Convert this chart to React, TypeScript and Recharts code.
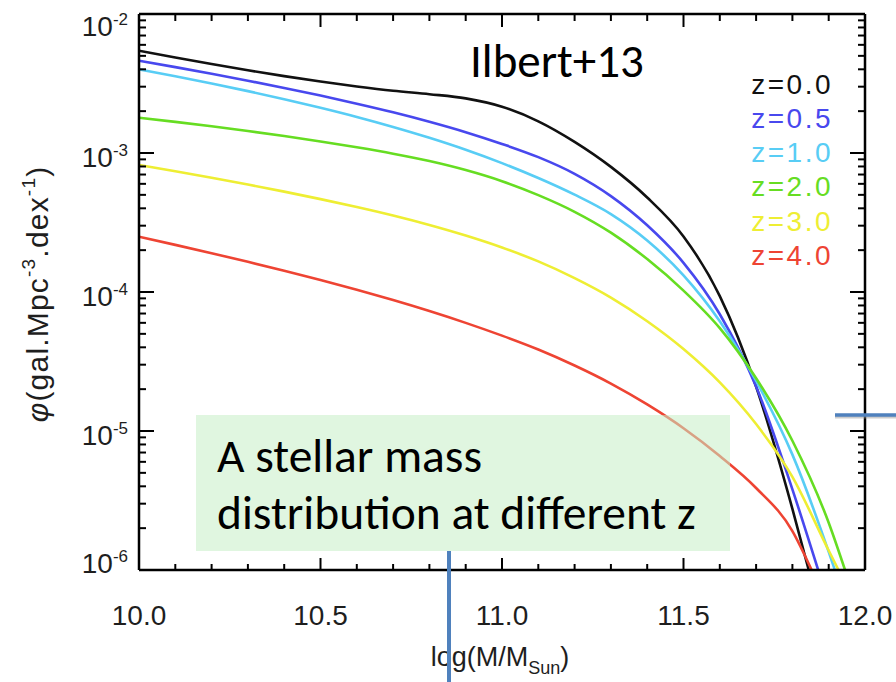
import { Line, LineChart, XAxis, YAxis } from "recharts";

// Stellar mass functions (Ilbert+13).
// mass = log(M/Msun); values are log10(phi), phi in gal.Mpc^-3.dex^-1

const massGrid = [10.0, 10.1, 10.2, 10.3, 10.4, 10.5, 10.6, 10.7, 10.8, 10.9, 11.0, 11.1, 11.2, 11.3, 11.4, 11.5, 11.6, 11.7, 11.8];

const massZ00 = [...massGrid, 11.845];
const logPhiZ00 = [-2.264, -2.313, -2.36, -2.405, -2.447, -2.486, -2.521, -2.552, -2.577, -2.607, -2.667, -2.772, -2.92, -3.1, -3.32, -3.6, -4.03, -4.68, -5.56, -6.0];

const massZ05 = [...massGrid, 11.871];
const logPhiZ05 = [-2.336, -2.382, -2.43, -2.48, -2.532, -2.587, -2.645, -2.707, -2.775, -2.85, -2.935, -3.03, -3.15, -3.31, -3.52, -3.79, -4.16, -4.68, -5.42, -6.0];

const massZ10 = [...massGrid, 11.9, 11.917];
const logPhiZ10 = [-2.398, -2.448, -2.5, -2.555, -2.613, -2.675, -2.741, -2.813, -2.891, -2.977, -3.073, -3.18, -3.3, -3.44, -3.63, -3.88, -4.21, -4.64, -5.17, -5.87, -6.0];

const massZ20 = [...massGrid, 11.9, 11.945];
const logPhiZ20 = [-2.746, -2.776, -2.808, -2.842, -2.878, -2.917, -2.959, -3.005, -3.058, -3.123, -3.203, -3.303, -3.423, -3.573, -3.763, -3.99, -4.26, -4.62, -5.07, -5.66, -6.0];

const massZ30 = [...massGrid, 11.9, 11.927];
const logPhiZ30 = [-3.086, -3.131, -3.178, -3.227, -3.278, -3.332, -3.389, -3.45, -3.518, -3.594, -3.68, -3.78, -3.9, -4.04, -4.21, -4.41, -4.65, -4.95, -5.33, -5.86, -6.0];

const massZ40 = [...massGrid, 11.853];
const logPhiZ40 = [-3.602, -3.661, -3.721, -3.783, -3.847, -3.914, -3.984, -4.058, -4.137, -4.222, -4.314, -4.414, -4.529, -4.659, -4.809, -4.98, -5.18, -5.41, -5.72, -6.0];

const seriesNames = ["z=0.0", "z=0.5", "z=1.0", "z=2.0", "z=3.0", "z=4.0"];
const seriesColors = ["#111111", "#4848ee", "#58cdf5", "#66dd22", "#eeee33", "#ee4433"];
const seriesMass = [massZ00, massZ05, massZ10, massZ20, massZ30, massZ40];
const seriesLogPhi = [logPhiZ00, logPhiZ05, logPhiZ10, logPhiZ20, logPhiZ30, logPhiZ40];

const xTicks = [10.0, 10.1, 10.2, 10.3, 10.4, 10.5, 10.6, 10.7, 10.8, 10.9, 11.0, 11.1, 11.2, 11.3, 11.4, 11.5, 11.6, 11.7, 11.8, 11.9, 12.0];
const yDecades = [1e-6, 1e-5, 1e-4, 1e-3];
const yMultipliers = [1, 2, 3, 4, 5, 6, 7, 8, 9];
const yTicks = [...yDecades.flatMap((d) => yMultipliers.map((k) => k * d)), 1e-2];

const W = 896;
const H = 682;
const LABEL_FONT = "'Liberation Sans', Arial, Helvetica, sans-serif";
const SLIDE_FONT = "Carlito, Lato, sans-serif";
const INK = "#1e1e1e";
const SLIDE_BLUE = "#4f81bd";

const isXMajor = (v: number) => Math.abs(v * 2 - Math.round(v * 2)) < 1e-6;
const decadeOf = (v: number) => Math.round(Math.log10(v));
const isYMajor = (v: number) => Math.abs(Math.log10(v) - decadeOf(v)) < 1e-6;

function BottomTick({ x, y, payload }: any) {
  const major = isXMajor(payload.value);
  return (
    <g>
      <line x1={x} y1={y} x2={x} y2={y - (major ? 12 : 6)} stroke="#000" strokeWidth={2} />
      {major && (
        <text x={x} y={y + 55} textAnchor="middle" fontFamily={LABEL_FONT} fontSize={28} fill={INK}>
          {payload.value.toFixed(1)}
        </text>
      )}
    </g>
  );
}

function TopTick({ x, y, payload }: any) {
  const major = isXMajor(payload.value);
  return <line x1={x} y1={y} x2={x} y2={y + (major ? 13 : 7)} stroke="#000" strokeWidth={2} />;
}

function LeftTick({ x, y, payload }: any) {
  const v = payload.value;
  const major = isYMajor(v);
  const exp = decadeOf(v);
  // end labels are pulled inside the axis range, like the original plot
  const dy = exp === -2 ? 22 : exp === -6 ? 3 : 14;
  return (
    <g>
      <line x1={x} y1={y} x2={x + (major ? 15 : 7)} y2={y} stroke="#000" strokeWidth={2} />
      {major && (
        <text x={x - 11} y={y + dy} textAnchor="end" fontFamily={LABEL_FONT} fontSize={28} fill={INK}>
          10
          <tspan dy={-11} fontSize={17}>
            {String(exp)}
          </tspan>
        </text>
      )}
    </g>
  );
}

function RightTick({ x, y, payload }: any) {
  const major = isYMajor(payload.value);
  return <line x1={x} y1={y} x2={x - (major ? 15 : 7)} y2={y} stroke="#000" strokeWidth={2} />;
}

const axisStroke = { stroke: "#000", strokeWidth: 2.5 };

export default function App() {
  const legendBase = 93.5;
  const legendStep = 34.3;
  return (
    <div style={{ position: "absolute", left: 0, top: 0, width: W, height: H, background: "#fff" }}>
      <LineChart width={W} height={H} margin={{ top: 13, right: 30, bottom: 111, left: 138 }}>
        <XAxis
          xAxisId="b"
          type="number"
          dataKey="mass"
          domain={[10, 12]}
          allowDataOverflow
          ticks={xTicks}
          interval={0}
          height={1}
          tickSize={0}
          tickMargin={0}
          tickLine={false}
          tick={<BottomTick />}
          axisLine={axisStroke}
        />
        <XAxis
          xAxisId="t"
          orientation="top"
          type="number"
          dataKey="mass"
          domain={[10, 12]}
          allowDataOverflow
          ticks={xTicks}
          interval={0}
          height={1}
          tickSize={0}
          tickMargin={0}
          tickLine={false}
          tick={<TopTick />}
          axisLine={axisStroke}
        />
        <YAxis
          yAxisId="l"
          type="number"
          scale="log"
          domain={[1e-6, 1e-2]}
          allowDataOverflow
          ticks={yTicks}
          interval={0}
          width={1}
          tickSize={0}
          tickMargin={0}
          tickLine={false}
          tick={<LeftTick />}
          axisLine={axisStroke}
        />
        <YAxis
          yAxisId="r"
          orientation="right"
          type="number"
          scale="log"
          domain={[1e-6, 1e-2]}
          allowDataOverflow
          ticks={yTicks}
          interval={0}
          width={1}
          tickSize={0}
          tickMargin={0}
          tickLine={false}
          tick={<RightTick />}
          axisLine={axisStroke}
        />
        {seriesNames.map((name, i) => (
          <Line
            key={name}
            name={name}
            xAxisId="b"
            yAxisId="l"
            data={seriesMass[i].map((m, j) => ({ mass: m, phi: 10 ** seriesLogPhi[i][j] }))}
            dataKey="phi"
            type="monotone"
            stroke={seriesColors[i]}
            strokeWidth={2.6}
            dot={false}
            activeDot={false}
            isAnimationActive={false}
          />
        ))}
      </LineChart>

      <svg width={W} height={H} style={{ position: "absolute", left: 0, top: 0, pointerEvents: "none" }}>
        {/* legend */}
        {seriesNames.map((name, i) => (
          <text
            key={name}
            x={833}
            y={legendBase + i * legendStep}
            textAnchor="end"
            fontFamily={LABEL_FONT}
            fontSize={28}
            letterSpacing={2.5}
            fill={seriesColors[i]}
          >
            {name}
          </text>
        ))}

        {/* axis titles */}
        <text x={500} y={666} textAnchor="middle" fontFamily={LABEL_FONT} fontSize={27} fill={INK}>
          log(M/M
          <tspan fontSize={18} dy={8}>
            Sun
          </tspan>
          <tspan dy={-8}>)</tspan>
        </text>
        <text
          transform="translate(48,294) rotate(-90)"
          textAnchor="middle"
          fontFamily={LABEL_FONT}
          fontSize={30}
          letterSpacing={1.2}
          fill={INK}
        >
          <tspan fontStyle="italic">φ</tspan>(gal.Mpc
          <tspan fontSize={19} dy={-13}>
            -3
          </tspan>
          <tspan dy={13}>.dex</tspan>
          <tspan fontSize={19} dy={-13}>
            -1
          </tspan>
          <tspan dy={13}>)</tspan>
        </text>

        {/* slide annotations */}
        <text x={470} y={77} fontFamily={SLIDE_FONT} fontSize={47} fill="#000">
          Ilbert+13
        </text>
        <rect x={196} y={415} width={534} height={136} fill="rgba(198,239,198,0.55)" />
        <text x={217} y={472} fontFamily={SLIDE_FONT} fontSize={47.5} fill="#000">
          A stellar mass
        </text>
        <text x={217} y={529} fontFamily={SLIDE_FONT} fontSize={47.5} fill="#000">
          distribution at different z
        </text>
        <line x1={835} y1={417} x2={896} y2={417} stroke="#9a9a9a" strokeOpacity={0.5} strokeWidth={3} />
        <line x1={835} y1={415} x2={896} y2={415} stroke={SLIDE_BLUE} strokeWidth={3.5} />
        <line x1={449} y1={551} x2={449} y2={682} stroke={SLIDE_BLUE} strokeWidth={4} />
      </svg>
    </div>
  );
}
